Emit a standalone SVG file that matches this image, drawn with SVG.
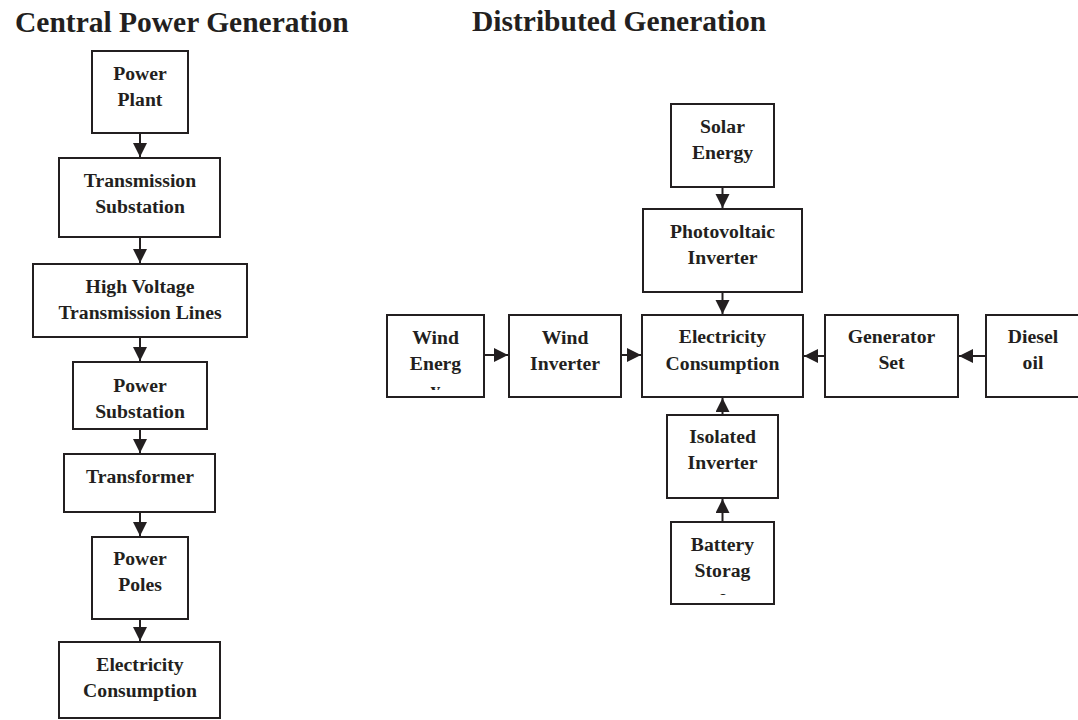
<svg xmlns="http://www.w3.org/2000/svg" width="1078" height="720" viewBox="0 0 1078 720">
<defs>
<style>
.box{fill:#fff;stroke:#231f20;stroke-width:2}
.t{font-family:"Liberation Serif","Times New Roman",serif;font-weight:bold;font-size:19.7px;fill:#231f20;text-anchor:middle}
.title{font-family:"Liberation Serif","Times New Roman",serif;font-weight:bold;font-size:29.5px;fill:#231f20}
.c{stroke:#231f20;stroke-width:2;fill:none;marker-end:url(#ah)}
</style>
<marker id="ah" markerUnits="userSpaceOnUse" markerWidth="15" markerHeight="15" refX="14" refY="7" orient="auto">
<path d="M0,0 L14,7 L0,14 z" fill="#231f20"/>
</marker>
<clipPath id="clipWind"><rect x="387" y="315" width="97" height="75"/></clipPath>
<clipPath id="clipBatt"><rect x="671" y="522" width="103" height="73"/></clipPath>
</defs>
<rect width="1078" height="720" fill="#fff"/>
<text class="title" x="15" y="32">Central Power Generation</text>
<text class="title" x="472" y="31">Distributed Generation</text>

<g id="connectors">
<line class="c" x1="140" y1="133" x2="140" y2="157"/>
<line class="c" x1="140" y1="237" x2="140" y2="263"/>
<line class="c" x1="140" y1="337" x2="140" y2="361"/>
<line class="c" x1="140" y1="429" x2="140" y2="453"/>
<line class="c" x1="140" y1="512" x2="140" y2="536"/>
<line class="c" x1="140" y1="619" x2="140" y2="641"/>
<line class="c" x1="722.5" y1="187" x2="722.5" y2="208"/>
<line class="c" x1="722.5" y1="292" x2="722.5" y2="314"/>
<line class="c" x1="484" y1="355" x2="508" y2="355"/>
<line class="c" x1="621" y1="355" x2="641" y2="355"/>
<line class="c" x1="825" y1="356" x2="804" y2="356"/>
<line class="c" x1="986" y1="356" x2="959" y2="356"/>
<line class="c" x1="722.5" y1="522" x2="722.5" y2="499"/>
<line class="c" x1="722.5" y1="415" x2="722.5" y2="398"/>
</g>

<g id="power-plant"><rect class="box" x="92" y="51" width="96" height="82"/>
<text class="t" x="140" y="80">Power</text><text class="t" x="140" y="106">Plant</text></g>
<g id="transmission-substation"><rect class="box" x="59" y="158" width="161" height="79"/>
<text class="t" x="140" y="187">Transmission</text><text class="t" x="140" y="213">Substation</text></g>
<g id="hv-lines"><rect class="box" x="33" y="264" width="214" height="73"/>
<text class="t" x="140" y="293">High Voltage</text><text class="t" x="140" y="319">Transmission Lines</text></g>
<g id="power-substation"><rect class="box" x="73" y="362" width="134" height="67"/>
<text class="t" x="140" y="392">Power</text><text class="t" x="140" y="418">Substation</text></g>
<g id="transformer"><rect class="box" x="64" y="454" width="151" height="58"/>
<text class="t" x="140" y="483">Transformer</text></g>
<g id="power-poles"><rect class="box" x="92" y="537" width="96" height="82"/>
<text class="t" x="140" y="565">Power</text><text class="t" x="140" y="591">Poles</text></g>
<g id="consumption-left"><rect class="box" x="59" y="642" width="161" height="76"/>
<text class="t" x="140" y="671">Electricity</text><text class="t" x="140" y="697">Consumption</text></g>

<g id="solar"><rect class="box" x="671" y="104" width="103" height="83"/>
<text class="t" x="722.5" y="133">Solar</text><text class="t" x="722.5" y="159">Energy</text></g>
<g id="pv-inverter"><rect class="box" x="643" y="209" width="159" height="83"/>
<text class="t" x="722.5" y="238">Photovoltaic</text><text class="t" x="722.5" y="264">Inverter</text></g>
<g id="wind-energy"><rect class="box" x="387" y="315" width="97" height="82"/>
<text class="t" x="435.5" y="344">Wind</text><text class="t" x="435.5" y="370">Energ</text>
<text class="t" x="435.5" y="396" clip-path="url(#clipWind)">y</text></g>
<g id="wind-inverter"><rect class="box" x="509" y="315" width="112" height="82"/>
<text class="t" x="565" y="344">Wind</text><text class="t" x="565" y="370">Inverter</text></g>
<g id="consumption-right"><rect class="box" x="642" y="315" width="161" height="82"/>
<text class="t" x="722.5" y="343">Electricity</text><text class="t" x="722.5" y="370">Consumption</text></g>
<g id="generator-set"><rect class="box" x="825" y="315" width="133" height="82"/>
<text class="t" x="891.5" y="343">Generator</text><text class="t" x="891.5" y="369">Set</text></g>
<g id="diesel-oil"><rect class="box" x="986" y="315" width="94" height="82"/>
<text class="t" x="1033" y="343">Diesel</text><text class="t" x="1033" y="369">oil</text></g>
<g id="isolated-inverter"><rect class="box" x="667" y="415" width="111" height="83"/>
<text class="t" x="722.5" y="443">Isolated</text><text class="t" x="722.5" y="469">Inverter</text></g>
<g id="battery-storage"><rect class="box" x="671" y="522" width="103" height="82"/>
<text class="t" x="722.5" y="551">Battery</text><text class="t" x="722.5" y="577">Storag</text>
<text class="t" x="722.5" y="603" clip-path="url(#clipBatt)">e</text></g>
</svg>
